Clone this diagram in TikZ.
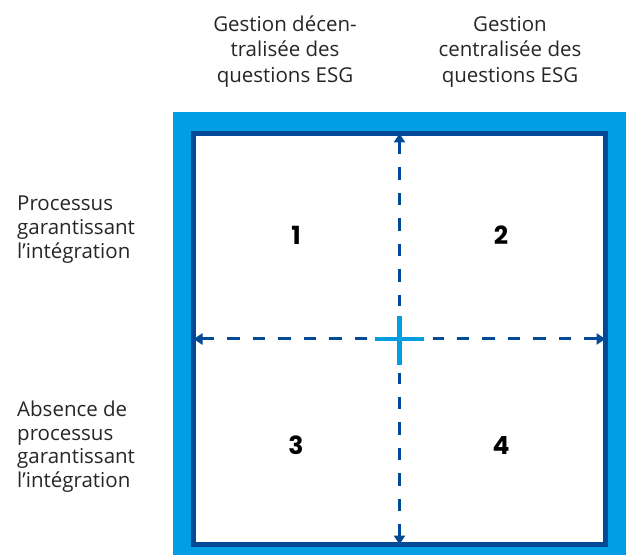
\documentclass[tikz,border=0pt]{standalone}
\usepackage{fontspec}
\setmainfont{Open Sans}
\newfontfamily\numfont{Poppins}
\usetikzlibrary{arrows.meta}
\definecolor{lightblue}{RGB}{0,159,227}
\definecolor{darkblue}{RGB}{0,74,152}
\tikzset{
  lbl/.style={inner sep=0pt, text=black!85},
  toplbl/.style={lbl, align=center, anchor=base, font=\fontsize{20.5}{25.5}\selectfont},
  sidelbl/.style={lbl, align=left, anchor=base west, font=\fontsize{20.5}{24}\selectfont},
  num/.style={inner sep=0pt, font=\numfont\bfseries\fontsize{25}{28}\selectfont, text=black},
  axis/.style={draw=darkblue, line width=3pt, dash pattern=on 12.5pt off 13pt,
    {Triangle[width=11pt,length=9pt]}-{Triangle[width=11pt,length=9pt]}},
  crossbar/.style={draw=lightblue, line width=4.5pt},
  halo/.style={draw=white, line width=6pt}
}
\begin{document}
\begin{tikzpicture}[x=1pt,y=-1pt]
\useasboundingbox (0,0) rectangle (630,556);
% outer light blue frame
\fill[lightblue] (172.7,112) rectangle (626,555);
% inner square
\node[draw=darkblue, line width=5pt, fill=white, minimum width=412pt, minimum height=411pt, inner sep=0pt] (sq) at (399.5,339) {};
% axes
\coordinate (top) at ([yshift=-2.5pt]sq.north);
\coordinate (bot) at ([yshift=2.5pt]sq.south);
\coordinate (lft) at ([xshift=2.5pt]sq.west);
\coordinate (rgt) at ([xshift=-2.5pt]sq.east);
\draw[axis] (top) -- (bot);
\draw[axis] (lft) -- (rgt);
% cross with white gap around it
\coordinate (c) at (399.5,339);
\draw[halo] ([xshift=-33pt]c) -- ([xshift=33pt]c);
\draw[halo] ([yshift=-34pt]c) -- ([yshift=33pt]c);
\draw[crossbar] ([xshift=-25pt]c) -- ([xshift=24pt]c);
\draw[crossbar] ([yshift=-26pt]c) -- ([yshift=23pt]c);
% numbers
\node[num] (n1) at (296,235) {1};
\node[num] (n2) at (501,235) {2};
\node[num] (n3) at (296,445) {3};
\node[num] (n4) at (501,445) {4};
% column labels (anchor at baseline of last line)
\node[toplbl] (col1) at (285,82.5) {Gestion décen-\\tralisée des\\questions ESG};
\node[toplbl] (col2) at (510,82.5) {Gestion\\centralisée des\\questions ESG};
% row labels
\node[sidelbl] (row1) at (17,259) {Processus\\garantissant\\l’intégration};
\node[sidelbl, font=\fontsize{20.5}{23.5}\selectfont] (row2) at (17,487) {Absence de\\processus\\garantissant\\l’intégration};
\end{tikzpicture}
\end{document}
